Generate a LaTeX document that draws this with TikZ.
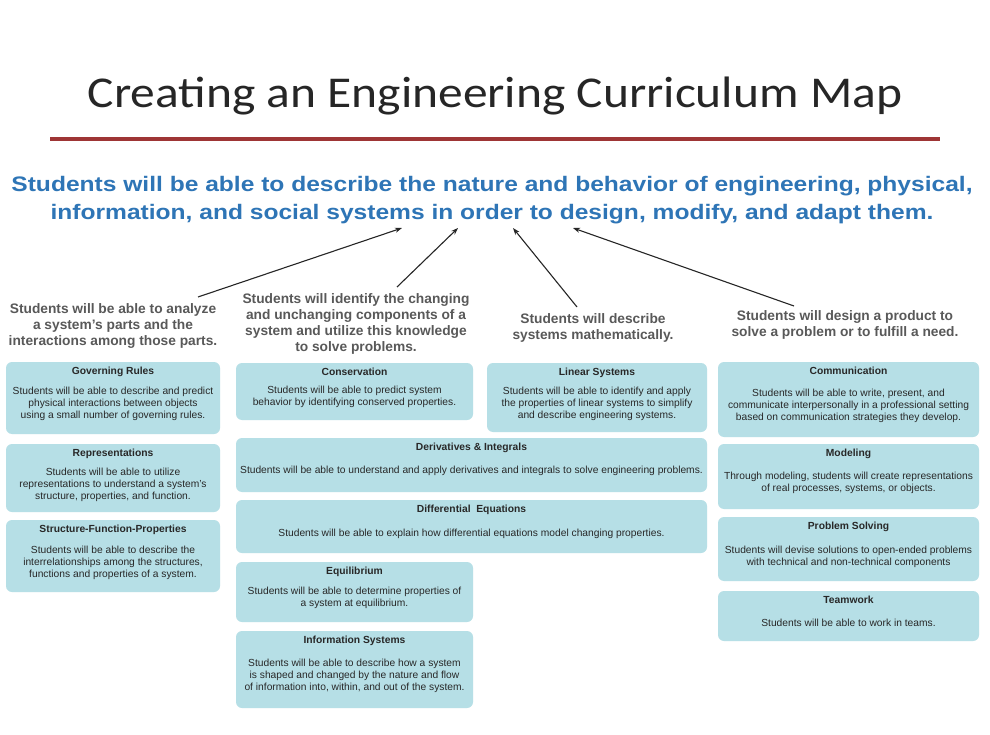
\documentclass[tikz,border=0pt]{standalone}
\usepackage{fontspec}
\setmainfont{Liberation Sans}
\newfontfamily\titlefont[FakeStretch=1.125]{Carlito}
\newfontfamily\goalfont[FakeStretch=1.17]{Liberation Sans}
\usepackage{tikz}
\usetikzlibrary{positioning,arrows.meta}

\definecolor{cardblue}{RGB}{182,223,230}
\definecolor{goalblue}{RGB}{46,117,182}
\definecolor{headgray}{RGB}{89,89,89}
\definecolor{rulered}{RGB}{158,53,53}
\definecolor{bodytext}{RGB}{40,40,40}

\tikzset{
  card/.style={fill=cardblue, rounded corners=6pt, inner sep=0pt},
  cardtitle/.style={font=\fontsize{10.3}{12}\selectfont\bfseries, text=bodytext, inner sep=0pt},
  cardbody/.style={font=\fontsize{10.25}{12}\selectfont, text=bodytext, align=center, inner sep=0pt},
  outcome/.style={font=\fontsize{13.75}{16}\selectfont\bfseries, text=headgray, align=center, inner sep=0pt},
  link/.style={-{Stealth[length=7pt,width=5pt]}, line width=1.1pt, black!85}
}

\begin{document}
\begin{tikzpicture}[x=1pt,y=-1pt]
  \fill[white] (0,0) rectangle (990,735);
  \useasboundingbox (0,0) rectangle (990,735);

  \node[text=black!85] (title) at (495,96) {\titlefont\fontsize{44}{50}\selectfont Creating an Engineering Curriculum Map};
  \draw[rulered, line width=4pt] (50,139) -- (940,139);

  \node[font=\goalfont\fontsize{21}{28}\selectfont\bfseries, text=goalblue, align=center, inner sep=0pt] (goal) at (492,200)
    {Students will be able to describe the nature and behavior of engineering, physical,\\
     information, and social systems in order to design, modify, and adapt them.};

  % outcomes
  \node[outcome] (parts) at (113,326) {Students will be able to analyze\\a system's parts and the\\interactions among those parts.};
  \node[outcome] (change) at (356,324) {Students will identify the changing\\and unchanging components of a\\system and utilize this knowledge\\to solve problems.};
  \node[outcome] (math) at (593,328) {Students will describe\\systems mathematically.};
  \node[outcome] (design) at (845,325) {Students will design a product to\\solve a problem or to fulfill a need.};

  \coordinate (s1) at (198,297);
  \coordinate (s2) at (397,287);
  \coordinate (s3) at (577,307);
  \coordinate (s4) at (794,306);
  \coordinate (g1) at (402,228);
  \coordinate (g2) at (458,228);
  \coordinate (g3) at (513,228);
  \coordinate (g4) at (573,228);
  \foreach \a/\b in {s1/g1,s2/g2,s3/g3,s4/g4}
    \draw[link] (\a) -- (\b);

  % first column
  \node[card, minimum width=214pt, minimum height=72pt] (gov) at (113,398) {};
  \node[cardtitle, below=5pt of gov.north] (govttl) {Governing Rules};
  \node[cardbody] (govtxt) at (113,403.5) {Students will be able to describe and predict\\physical interactions between objects\\using a small number of governing rules.};

  \node[card, minimum width=214pt, minimum height=68pt] (rep) at (113,478) {};
  \node[cardtitle, below=5pt of rep.north] (repttl) {Representations};
  \node[cardbody] (reptxt) at (113,485) {Students will be able to utilize\\representations to understand a system's\\structure, properties, and function.};

  \node[card, minimum width=214pt, minimum height=72pt] (sfp) at (113,556) {};
  \node[cardtitle, below=5pt of sfp.north] (sfpttl) {Structure-Function-Properties};
  \node[cardbody] (sfptxt) at (113,563) {Students will be able to describe the\\interrelationships among the structures,\\functions and properties of a system.};

  % second column
  \node[card, minimum width=237pt, minimum height=57pt] (cons) at (354.5,391.5) {};
  \node[cardtitle, below=5pt of cons.north] (consttl) {Conservation};
  \node[cardbody] (constxt) at (354.5,397) {Students will be able to predict system\\behavior by identifying conserved properties.};

  \node[card, minimum width=471pt, minimum height=54pt] (deriv) at (471.5,465) {};
  \node[cardtitle, below=5pt of deriv.north] (derivttl) {Derivatives \& Integrals};
  \node[cardbody] (derivtxt) at (471.5,471) {Students will be able to understand and apply derivatives and integrals to solve engineering problems.};

  \node[card, minimum width=471pt, minimum height=53pt] (diffeq) at (471.5,526.5) {};
  \node[cardtitle, below=5pt of diffeq.north] (diffeqttl) {Differential\ \ Equations};
  \node[cardbody] (diffeqtxt) at (471.5,534) {Students will be able to explain how differential equations model changing properties.};

  \node[card, minimum width=237pt, minimum height=60pt] (equi) at (354.5,592) {};
  \node[cardtitle, below=5pt of equi.north] (equittl) {Equilibrium};
  \node[cardbody] (equitxt) at (354.5,598) {Students will be able to determine properties of\\a system at equilibrium.};

  \node[card, minimum width=237pt, minimum height=77pt] (info) at (354.5,669.5) {};
  \node[cardtitle, below=5pt of info.north] (infottl) {Information Systems};
  \node[cardbody] (infotxt) at (354.5,676) {Students will be able to describe how a system\\is shaped and changed by the nature and flow\\of information into, within, and out of the system.};

  % third column
  \node[card, minimum width=220pt, minimum height=69pt] (lin) at (597,397.5) {};
  \node[cardtitle, below=5pt of lin.north] (linttl) {Linear Systems};
  \node[cardbody] (lintxt) at (597,404) {Students will be able to identify and apply\\the properties of linear systems to simplify\\and describe engineering systems.};

  % fourth column
  \node[card, minimum width=261pt, minimum height=75pt] (comm) at (848.5,399.5) {};
  \node[cardtitle, below=5pt of comm.north] (commttl) {Communication};
  \node[cardbody] (commtxt) at (848.5,406) {Students will be able to write, present, and\\communicate interpersonally in a professional setting\\based on communication strategies they develop.};

  \node[card, minimum width=261pt, minimum height=65pt] (model) at (848.5,476.5) {};
  \node[cardtitle, below=5pt of model.north] (modelttl) {Modeling};
  \node[cardbody] (modeltxt) at (848.5,483) {Through modeling, students will create representations\\of real processes, systems, or objects.};

  \node[card, minimum width=261pt, minimum height=64pt] (probs) at (848.5,549) {};
  \node[cardtitle, below=5pt of probs.north] (probsttl) {Problem Solving};
  \node[cardbody] (probstxt) at (848.5,557) {Students will devise solutions to open-ended problems\\with technical and non-technical components};

  \node[card, minimum width=261pt, minimum height=50pt] (team) at (848.5,616) {};
  \node[cardtitle, below=5pt of team.north] (teamttl) {Teamwork};
  \node[cardbody] (teamtxt) at (848.5,623) {Students will be able to work in teams.};
\end{tikzpicture}
\end{document}
